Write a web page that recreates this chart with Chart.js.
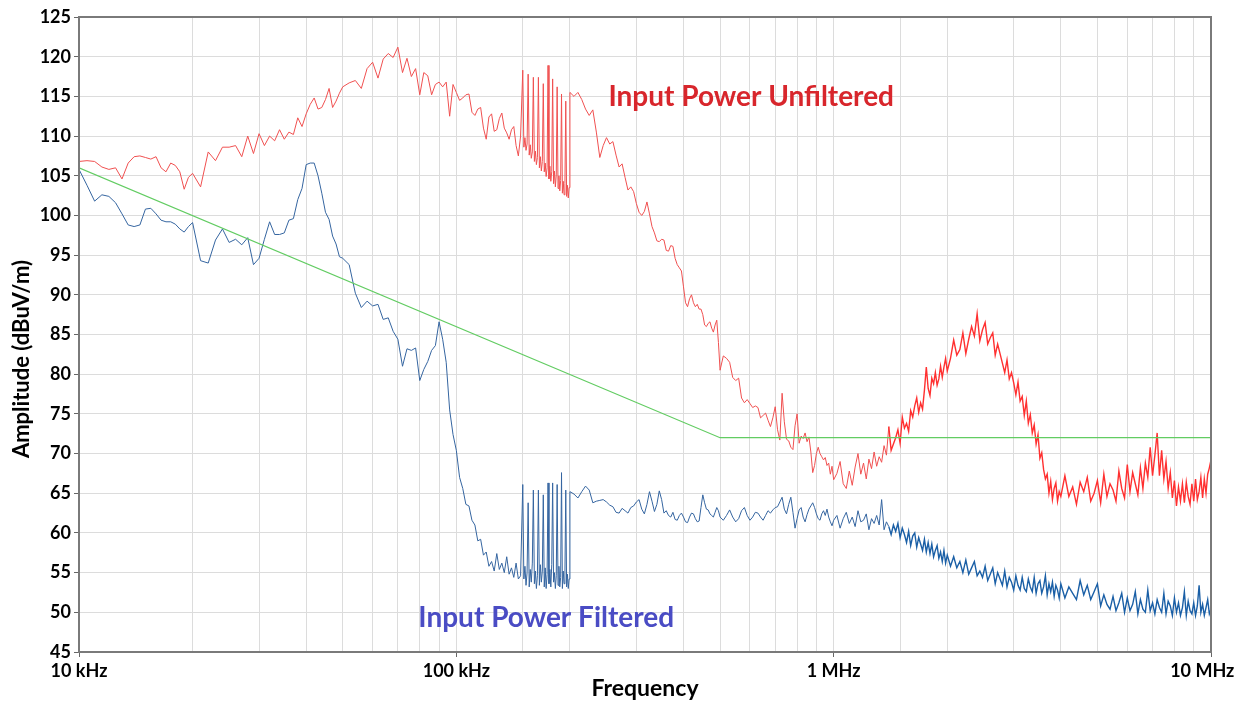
<!DOCTYPE html>
<html>
<head>
<meta charset="utf-8">
<script src="https://cdn.jsdelivr.net/npm/chart.js@4/dist/chart.umd.min.js"></script>
<style>
	html, body { margin: 0; background: #fff; }
</style>
</head>
<body>
<canvas id="emiChart" width="1240" height="702"></canvas>
<script>
// sweep frequencies in kHz
const freqKHz = [
	10, 10.5, 11, 11.5, 12, 12.5, 13, 13.5, 14, 14.5, 15, 15.5, 16, 16.5, 17, 17.5, 18, 18.5, 19, 19.5, 20,
	21, 22, 23, 24, 25, 26, 27, 28, 29, 30, 31, 32, 33, 34, 35, 36, 37, 38, 39, 40,
	41, 42, 43, 44, 45, 46, 47, 48, 49, 50,
	52, 54, 56, 58, 60, 62, 64, 66, 68, 70, 72, 74, 76, 78, 80, 82, 84, 86, 88, 90, 92, 94, 96, 98, 100,
	102, 104, 106, 108, 110, 112, 114, 116, 118, 120, 122, 124, 126, 128, 130, 132, 134, 136, 138, 140, 142, 144, 146, 148,
	150, 151, 152, 153, 154, 155, 156, 157, 158, 159, 160, 161, 162, 163, 164, 165, 166, 167, 168, 169,
	170, 171, 172, 173, 174, 175, 176, 177, 178, 179, 180, 181, 182, 183, 184, 185, 186, 187, 188, 189,
	190, 191, 192, 193, 194, 195, 196, 197, 198, 199, 200,
	205, 210, 215, 220, 225, 230, 235, 240, 245, 250, 255, 260, 265, 270, 275, 280, 285, 290, 295, 300,
	305, 310, 315, 320, 325, 330, 335, 340, 345, 350, 355, 360, 365, 370, 375, 380, 385, 390, 395, 400,
	405, 410, 415, 420, 425, 430, 435, 440, 445, 450, 455, 460, 465, 470, 475, 480, 485, 490, 495, 500,
	510, 520, 530, 540, 550, 560, 570, 580, 590, 600, 610, 620, 630, 640, 650, 660, 670, 680, 690, 700,
	710, 720, 730, 740, 750, 760, 770, 780, 790, 800, 810, 820, 830, 840, 850, 860, 870, 880, 890, 900,
	910, 920, 930, 940, 950, 960, 970, 980, 990, 1000,
	1020, 1040, 1060, 1080, 1100, 1120, 1140, 1160, 1180, 1200, 1220, 1240, 1260, 1280, 1300, 1320, 1340, 1360, 1380, 1400,
	1420, 1440, 1460, 1480, 1500, 1520, 1540, 1560, 1580, 1600, 1620, 1640, 1660, 1680, 1700, 1720, 1740, 1760, 1780, 1800,
	1820, 1840, 1860, 1880, 1900, 1920, 1940, 1960, 1980, 2000,
	2040, 2080, 2120, 2160, 2200, 2240, 2280, 2320, 2360, 2400, 2440, 2480, 2520, 2560, 2600, 2640, 2680, 2720, 2760, 2800,
	2840, 2880, 2920, 2960, 3000, 3040, 3080, 3120, 3160, 3200, 3240, 3280, 3320, 3360, 3400, 3440, 3480, 3520, 3560, 3600,
	3640, 3680, 3720, 3760, 3800, 3840, 3880, 3920, 3960, 4000,
	4100, 4200, 4300, 4400, 4500, 4600, 4700, 4800, 4900, 5000, 5100, 5200, 5300, 5400, 5500, 5600, 5700, 5800, 5900, 6000,
	6100, 6200, 6300, 6400, 6500, 6600, 6700, 6800, 6900, 7000, 7100, 7200, 7300, 7400, 7500, 7600, 7700, 7800, 7900, 8000,
	8100, 8200, 8300, 8400, 8500, 8600, 8700, 8800, 8900, 9000, 9100, 9200, 9300, 9400, 9500, 9600, 9700, 9800, 9900, 10000
];

// input power unfiltered, dBuV/m
const unfilteredDb = [
	106.8, 106.9, 106.8, 106.1, 105.8, 106.0, 104.6, 106.6, 107.4, 107.5, 107.3, 107.1, 107.4, 106.0, 105.5, 106.6, 106.3, 105.5, 103.3, 104.8, 105.3,
	103.6, 108.0, 106.9, 108.6, 108.6, 108.8, 107.4, 110.0, 107.8, 110.3, 108.8, 110.0, 109.4, 110.8, 109.6, 110.5, 110.2, 112.3, 111.2, 112.8,
	114.0, 114.8, 113.4, 113.6, 114.6, 116.0, 113.6, 114.4, 115.4, 116.2,
	116.7, 117.0, 116.0, 118.5, 119.3, 117.3, 119.7, 120.4, 119.9, 121.2, 118.0, 119.8, 117.5, 118.5, 115.2, 118.0, 117.6, 115.2, 116.5, 116.8, 116.2, 116.8, 112.5, 116.5, 115.5,
	114.5, 114.8, 115.2, 115.3, 113.0, 112.6, 113.4, 113.6, 111.0, 109.6, 112.4, 112.8, 110.6, 110.8, 112.2, 112.9, 111.0, 110.4, 109.6, 110.8, 111.2, 108.8, 107.5, 110.0,
	118.3, 108.6, 109.8, 108.2, 109.0, 117.8, 107.6, 108.9, 107.2, 108.0, 117.4, 106.8, 108.1, 106.4, 107.3, 117.4, 106.0, 107.4, 105.6, 106.8,
	116.6, 105.5, 106.6, 104.9, 106.0, 118.9, 104.6, 106.2, 104.3, 105.5, 117.2, 104.0, 105.6, 103.6, 105.1, 116.2, 103.4, 105.0, 103.1, 104.4,
	115.3, 102.8, 104.3, 102.6, 104.0, 114.4, 102.4, 103.8, 102.2, 103.5, 115.5,
	115.0, 115.5, 114.6, 113.4, 112.6, 113.3, 110.5, 107.3, 108.8, 109.8, 109.0, 109.3, 107.6, 106.1, 106.5, 104.8, 103.2, 103.6, 103.0, 101.5,
	100.4, 100.0, 100.5, 101.7, 100.2, 98.6, 97.8, 96.8, 96.7, 97.0, 96.9, 95.6, 95.5, 96.2, 96.1, 94.6, 93.8, 93.4, 93.0, 91.0,
	89.0, 88.5, 89.5, 90.0, 89.0, 88.5, 88.8, 88.2, 88.2, 87.5, 86.2, 86.0, 86.4, 86.6, 85.8, 85.3, 86.2, 86.8, 84.0, 80.5,
	82.3, 82.0, 81.5, 79.6, 79.2, 79.5, 77.0, 76.4, 76.8, 76.3, 75.8, 76.0, 75.8, 74.5, 74.8, 75.1, 74.2, 73.4, 74.5, 75.9,
	73.0, 71.7, 77.6, 74.0, 71.8, 71.6, 70.8, 70.5, 73.5, 75.0, 71.3, 72.2, 71.9, 72.6, 71.5, 72.1, 70.2, 67.6, 68.5, 70.0,
	70.8, 70.0, 69.6, 69.2, 69.5, 68.5, 68.8, 67.4, 68.4, 66.7,
	67.5, 69.0, 66.2, 65.6, 67.8, 66.0, 68.3, 70.0, 67.4, 68.8, 66.8, 69.3, 68.1, 70.2, 68.4, 69.6, 68.9, 71.0, 69.8, 73.4,
	70.4, 71.2, 72.0, 73.0, 71.3, 74.6, 73.2, 73.8, 72.8, 75.4, 74.6, 76.0, 77.0, 75.2, 76.4, 75.6, 78.0, 80.9, 78.2, 77.3,
	79.5, 78.8, 80.2, 78.6, 79.4, 81.0, 79.6, 80.9, 82.0, 80.4,
	82.0, 84.3, 82.4, 83.1, 85.2, 82.6, 84.4, 86.0, 84.8, 87.6, 84.2, 85.6, 86.5, 83.8, 84.6, 85.2, 82.4, 83.8, 82.6, 81.4,
	80.2, 81.8, 79.4, 80.2, 78.9, 77.4, 79.0, 76.6, 77.2, 74.8, 76.6, 73.8, 74.9, 72.6, 73.6, 71.2, 72.4, 69.4, 70.1, 68.0,
	66.8, 67.4, 65.0, 66.5, 64.2, 65.6, 66.3, 64.0, 65.2, 64.6,
	67.2, 64.6, 65.8, 63.6, 66.4, 65.2, 67.0, 64.0, 65.0, 66.6, 63.8, 67.4, 64.6, 66.2, 65.4, 64.0, 67.8, 65.6, 64.4, 68.6,
	65.2, 67.6, 66.2, 64.8, 68.2, 65.6, 68.8, 67.0, 70.8, 67.2, 69.8, 72.6, 67.2, 70.4, 66.8, 69.0, 65.6, 67.6, 64.4, 66.6,
	63.4, 65.8, 64.0, 66.2, 63.8, 66.4, 64.6, 63.6, 66.2, 64.0, 66.8, 64.2, 65.2, 67.0, 64.4, 66.8, 65.0, 67.4, 68.2, 69.2
];

// input power filtered, dBuV/m
const filteredDb = [
	105.8, 103.8, 101.8, 102.6, 102.4, 101.6, 100.2, 98.8, 98.6, 98.8, 100.8, 100.9, 100.2, 99.4, 99.2, 99.2, 98.9, 98.3, 97.9, 98.6, 99.1,
	94.3, 94.0, 96.9, 98.3, 96.6, 97.0, 96.3, 97.2, 93.8, 94.6, 97.0, 99.2, 97.6, 97.6, 97.8, 99.4, 99.6, 102.0, 103.4, 106.4,
	106.6, 106.6, 105.0, 102.8, 100.4, 99.5, 97.4, 96.4, 94.8, 94.6,
	93.8, 90.2, 88.4, 89.2, 88.6, 88.8, 86.9, 87.1, 85.4, 84.4, 81.0, 83.2, 83.0, 83.3, 79.2, 80.6, 81.6, 83.0, 83.6, 86.6, 84.4, 81.5, 75.5, 72.4, 70.4,
	67.0, 65.6, 63.6, 63.4, 61.6, 61.0, 59.0, 59.2, 57.2, 57.6, 55.8, 56.4, 55.2, 57.4, 55.4, 56.2, 55.0, 57.0, 54.8, 55.6, 54.4, 56.2, 54.2, 54.6,
	66.1, 54.2, 55.8, 53.4, 55.0, 63.8, 53.2, 55.4, 53.8, 56.2, 65.4, 53.6, 55.2, 53.0, 54.6, 65.4, 53.4, 56.0, 53.8, 55.2,
	64.8, 53.2, 55.6, 53.0, 54.8, 66.3, 53.6, 55.4, 53.2, 56.0, 66.3, 53.8, 55.0, 53.0, 54.6, 66.1, 53.4, 55.8, 53.2, 54.4,
	67.6, 53.0, 55.2, 53.6, 55.0, 65.4, 53.2, 54.8, 53.0, 54.2, 65.2,
	64.9, 64.4, 65.2, 65.9, 65.4, 63.8, 64.0, 64.1, 64.2, 63.9, 63.5, 63.3, 62.6, 62.5, 63.1, 62.8, 62.5, 63.2, 63.4, 63.9,
	64.2, 63.0, 62.4, 63.6, 65.2, 64.0, 62.7, 63.6, 65.3, 64.2, 62.5, 62.8, 62.2, 62.0, 62.6, 61.7, 61.6, 62.2, 62.5, 62.0,
	61.4, 61.3, 62.0, 62.5, 62.4, 61.8, 61.4, 61.5, 63.2, 64.8, 63.8, 63.0, 62.9, 62.4, 62.2, 62.0, 62.6, 63.2, 62.8, 62.0,
	61.6, 62.2, 62.9, 62.0, 61.4, 61.8, 62.8, 63.2, 62.2, 61.6, 62.0, 62.6, 62.5, 62.0, 61.6, 62.2, 62.8, 62.5, 62.9, 63.2,
	63.3, 63.9, 64.5, 63.0, 62.4, 63.6, 64.5, 62.6, 60.6, 61.8, 62.9, 63.2, 62.0, 61.4, 62.3, 63.0, 63.4, 63.8, 63.2, 62.4,
	61.8, 61.6, 62.4, 62.8, 62.2, 63.0, 62.0, 61.4, 60.9, 61.6,
	62.2, 60.6, 61.8, 62.6, 61.2, 62.0, 60.8, 62.8, 61.4, 61.6, 62.4, 60.4, 61.8, 61.2, 62.2, 61.0, 64.2, 60.4, 61.4, 60.8,
	59.8, 61.0, 60.2, 61.2, 59.4, 60.6, 59.8, 58.8, 60.2, 58.4, 59.6, 60.0, 58.2, 59.4, 58.6, 57.8, 59.2, 57.6, 58.8, 57.4,
	58.6, 57.0, 57.8, 58.4, 56.8, 57.6, 56.4, 57.8, 56.2, 57.2,
	55.8, 57.0, 55.6, 56.4, 55.0, 56.6, 54.8, 55.6, 56.4, 54.6, 55.2, 54.4, 55.8, 54.0, 54.8, 55.6, 53.6, 55.0, 54.2, 53.4,
	55.2, 53.2, 54.4, 53.8, 52.8, 54.6, 53.4, 52.8, 54.4, 53.0, 52.6, 54.2, 53.2, 52.6, 54.4, 52.4, 53.6, 54.0, 52.4, 53.2,
	54.6, 52.2, 53.6, 52.6, 53.8, 52.0, 53.4, 52.8, 51.8, 53.6,
	51.8, 53.2, 52.4, 51.6, 54.0, 52.2, 53.4, 51.6, 52.6, 53.6, 50.8, 52.2, 51.0, 50.4, 52.0, 50.2, 51.2, 52.4, 50.0, 51.8,
	50.2, 51.0, 52.6, 49.8, 51.6, 50.4, 50.0, 52.8, 50.2, 51.2, 49.8, 51.6, 50.6, 50.0, 52.4, 49.8, 51.4, 50.8, 49.6, 51.8,
	50.0, 51.2, 49.6, 50.6, 52.6, 49.6, 51.4, 50.2, 49.8, 51.2, 49.6, 50.8, 53.4, 50.0, 51.0, 49.6, 50.6, 51.6, 49.8, 50.4
];

// limit line
const limitFreq = [10, 500, 10000];
const limitDb = [106, 72, 72];

// the last label carries trailing spaces so it sits inside the canvas like the original
const freqTickNames = { 10: "10 kHz", 100: "100 kHz", 1000: "1 MHz", 10000: "10 MHz    " };

function toPoints(xs, ys) {
	return xs.map((f, i) => ({ x: f, y: ys[i] }));
}

const labelFont = "Lato, 'Liberation Sans', sans-serif";

// frame, y title and the two trace labels
const decorations = {
	id: "decorations",
	afterDatasetsDraw(chart) {
		const { ctx, chartArea, scales } = chart;
		ctx.save();
		ctx.strokeStyle = "#7a7a7a";
		ctx.lineWidth = 2;
		ctx.strokeRect(chartArea.left, chartArea.top, chartArea.right - chartArea.left, chartArea.bottom - chartArea.top);

		ctx.font = "bold 28px " + labelFont;
		ctx.textBaseline = "middle";
		ctx.textAlign = "left";
		ctx.fillStyle = "#d8262c";
		ctx.fillText("Input Power Unfiltered", scales.x.getPixelForValue(253), scales.y.getPixelForValue(114.9));
		ctx.fillStyle = "#4a4cc4";
		ctx.fillText("Input Power Filtered", scales.x.getPixelForValue(79.3), scales.y.getPixelForValue(49.3));

		ctx.translate(22, 359);
		ctx.rotate(-Math.PI / 2);
		ctx.textAlign = "center";
		ctx.fillStyle = "#000";
		ctx.font = "bold 22px " + labelFont;
		ctx.fillText("Amplitude (dBuV/m)", 0, 0);
		ctx.restore();
	}
};

// the dense part of the sweep is drawn a little heavier
const denseFrom = 1400;

new Chart(document.getElementById("emiChart"), {
	type: "line",
	data: {
		datasets: [
			{
				label: "Limit",
				data: toPoints(limitFreq, limitDb),
				borderColor: "#62cc62",
				borderWidth: 1.2,
				order: 0
			},
			{
				label: "Input Power Filtered",
				data: toPoints(freqKHz, filteredDb),
				borderColor: "#3565a0",
				borderWidth: 1,
				segment: {
					borderColor: (c) => (c.p0.parsed.x >= denseFrom ? "#1a5fa6" : undefined),
					borderWidth: (c) => (c.p0.parsed.x >= denseFrom ? 1.4 : undefined)
				},
				order: 1
			},
			{
				label: "Input Power Unfiltered",
				data: toPoints(freqKHz, unfilteredDb),
				borderColor: "#f05050",
				borderWidth: 1,
				segment: {
					borderColor: (c) => (c.p0.parsed.x >= denseFrom ? "#ff3030" : undefined),
					borderWidth: (c) => (c.p0.parsed.x >= denseFrom ? 1.4 : undefined)
				},
				order: 2
			}
		]
	},
	options: {
		responsive: false,
		animation: false,
		elements: { point: { radius: 0 }, line: { tension: 0 } },
		layout: { padding: { top: 17, right: 29, left: 0, bottom: 0 } },
		plugins: { legend: { display: false }, tooltip: { enabled: false } },
		scales: {
			x: {
				type: "logarithmic",
				min: 10,
				max: 10000,
				afterFit(scale) {
					scale.height = 50;
					scale.paddingLeft = 0;
					scale.paddingRight = 0;
				},
				border: { display: false },
				grid: {
					color: "#dcdcdc",
					tickLength: 5,
					tickColor: (c) => (c.tick && freqTickNames[c.tick.value] ? "#666" : "rgba(0,0,0,0)")
				},
				ticks: {
					autoSkip: false,
					maxRotation: 0,
					padding: 3,
					color: "#000",
					font: { family: labelFont, weight: "bold", size: 18 },
					callback: (v) => freqTickNames[v] || ""
				},
				title: {
					display: true,
					text: "Frequency",
					color: "#000",
					font: { family: labelFont, weight: "bold", size: 23 },
					padding: { top: 0, bottom: 0 }
				}
			},
			y: {
				min: 45,
				max: 125,
				afterFit(scale) { scale.width = 79; },
				border: { display: false },
				grid: { color: "#dcdcdc", tickLength: 5, tickColor: "#666" },
				ticks: {
					stepSize: 5,
					padding: 3,
					color: "#000",
					font: { family: labelFont, weight: "bold", size: 18 }
				}
			}
		}
	},
	plugins: [decorations]
});
</script>
</body>
</html>
